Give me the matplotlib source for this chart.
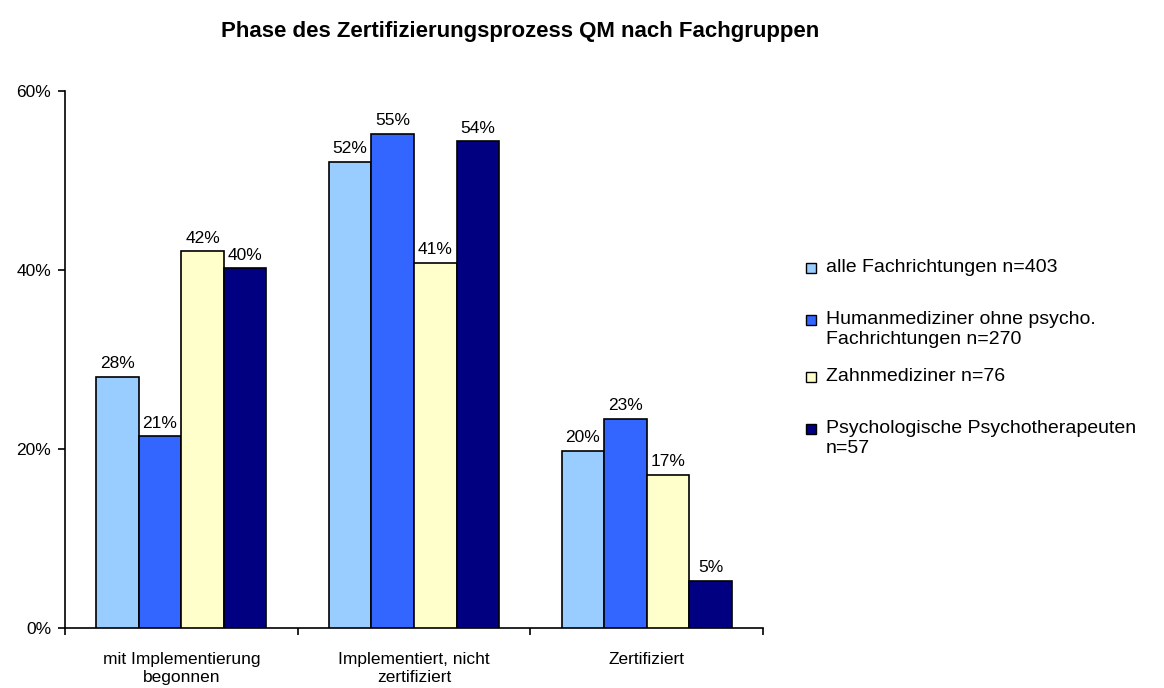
import numpy as np
import matplotlib.pyplot as plt
from matplotlib.patches import Rectangle
from matplotlib.ticker import FixedLocator, FuncFormatter

plt.rcParams['font.family'] = ['Liberation Sans', 'DejaVu Sans']

### Data

title = "Phase des Zertifizierungsprozess QM nach Fachgruppen"
categories = ["mit Implementierung\nbegonnen", "Implementiert, nicht\nzertifiziert", "Zertifiziert"]
series = ["alle Fachrichtungen n=403",
          "Humanmediziner ohne psycho.\nFachrichtungen n=270",
          "Zahnmediziner n=76",
          "Psychologische Psychotherapeuten\nn=57"]
alle = [28.1, 52.1, 19.8]
human = [21.4, 55.2, 23.4]
zahn = [42.1, 40.8, 17.1]
psycho = [40.2, 54.4, 5.3]
colors = ["#99CCFF", "#3366FF", "#FFFFCC", "#000080"]

### Plot

values = [alle, human, zahn, psycho]
fig = plt.figure(figsize=(11.64, 6.88), dpi=100)
ax = fig.add_axes([65/1164, 1-628/688, (763-65)/1164, (628-91)/688])

x = np.arange(len(categories))
w = 0.183
for i, vals in enumerate(values):
    pos = x + (i - 1.5) * w
    bars = ax.bar(pos, vals, width=w, color=colors[i], edgecolor='black', linewidth=1.2, zorder=3)
    for b, v in zip(bars, vals):
        ax.annotate(f"{round(v):d}%", (b.get_x() + b.get_width()/2, v),
                    xytext=(0, 4), textcoords='offset points', ha='center', va='bottom', fontsize=12.5)

ax.set_xlim(-0.5, len(categories) - 0.5)
ax.set_ylim(0, 60)
ax.yaxis.set_major_locator(FixedLocator([0, 20, 40, 60]))
ax.yaxis.set_major_formatter(FuncFormatter(lambda v, p: f"{int(v)}%"))
ax.set_xticks(x)
ax.set_xticklabels(categories, fontsize=12.5, linespacing=1.3)
ax.xaxis.set_minor_locator(FixedLocator(np.arange(len(categories) + 1) - 0.5))
ax.tick_params(axis='x', which='major', length=0, pad=17)
ax.tick_params(axis='x', which='minor', length=5, width=1.2, direction='out')
ax.tick_params(axis='y', length=5, width=1.2, direction='out', labelsize=12.5, pad=5)
for s in ['top', 'right']:
    ax.spines[s].set_visible(False)
for s in ['left', 'bottom']:
    ax.spines[s].set_linewidth(1.2)

fig.text(520/1164, 1-32/688, title, ha='center', va='center', fontsize=16, fontweight='bold')

# legend drawn by hand like the Excel one
leg_y = [268, 320, 377, 429]
for i, lab in enumerate(series):
    y = 1 - leg_y[i]/688
    fig.patches.append(Rectangle((806/1164, y - 5/688), 10/1164, 10/688, transform=fig.transFigure,
                                 facecolor=colors[i], edgecolor='black', linewidth=1.0))
    fig.text(826/1164, y + 9/688, lab, ha='left', va='top', fontsize=14, linespacing=1.22)

plt.savefig('out.png', dpi=100)
